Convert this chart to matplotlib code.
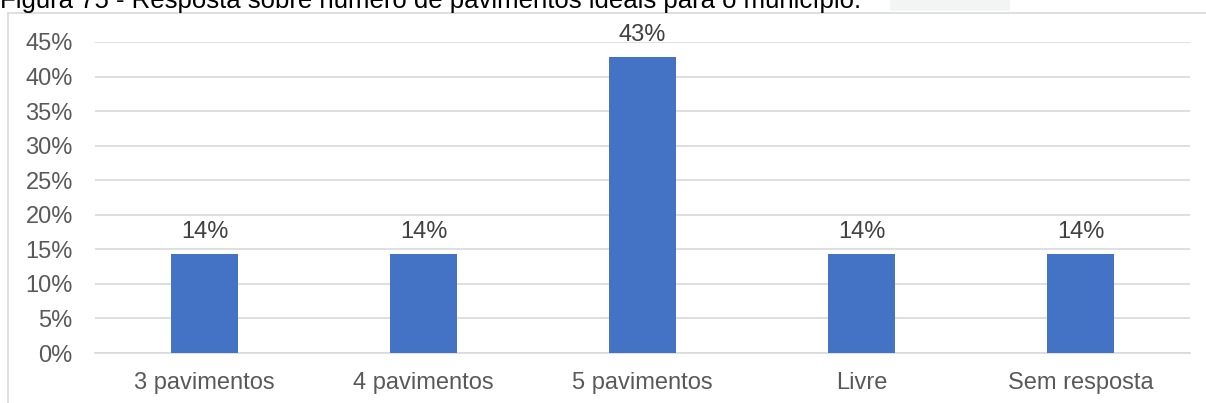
import matplotlib.pyplot as plt
from matplotlib.patches import Rectangle
import numpy as np

plt.rcParams['font.family'] = ['Liberation Sans', 'DejaVu Sans']

categories = ['3 pavimentos', '4 pavimentos', '5 pavimentos', 'Livre', 'Sem resposta']
values = [14.29, 14.29, 42.86, 14.29, 14.29]
labels = ['14%', '14%', '43%', '14%', '14%']
yticks = [0, 5, 10, 15, 20, 25, 30, 35, 40, 45]
caption = 'Figura 75 - Resposta sobre número de pavimentos ideais para o município.'

W, H = 1206, 403
fig = plt.figure(figsize=(W / 100, H / 100), dpi=100)

# plot area in pixels: x 95..1190, y 42 (45%) .. 353 (0%)
ax = fig.add_axes([95 / W, 1 - 353 / H, (1190 - 95) / W, (353 - 42) / H])

x = np.arange(len(categories))
ax.bar(x, values, width=0.31, color='#4472c4', zorder=3)
for xi, v, lab in zip(x, values, labels):
    ax.text(xi, v + 2.3, lab, ha='center', va='baseline', fontsize=17, color='#404040')

ax.set_xlim(-0.5, len(categories) - 0.5)
ax.set_ylim(0, 45)
ax.set_yticks(yticks)
ax.set_yticklabels([f'{t}%' for t in yticks])
ax.set_xticks(x)
ax.set_xticklabels(categories)
ax.tick_params(axis='both', length=0, labelsize=17, labelcolor='#595959')
ax.tick_params(axis='y', pad=16)
ax.tick_params(axis='x', pad=14)
ax.grid(axis='y', color='#d9d9d9', linewidth=1.2, zorder=0)
for s in ['top', 'right', 'left']:
    ax.spines[s].set_visible(False)
ax.spines['bottom'].set_color('#d9d9d9')
ax.spines['bottom'].set_linewidth(1.2)

# chart frame (top and left edges visible)
fig.add_artist(plt.Line2D([8 / W, 1], [1 - 12.5 / H, 1 - 12.5 / H], color='#d9d9d9', linewidth=1.2))
fig.add_artist(plt.Line2D([8 / W, 8 / W], [0, 1 - 12.5 / H], color='#d9d9d9', linewidth=1.2))

# faint box at top right
fig.add_artist(Rectangle((890 / W, 1 - 11 / H), 120 / W, 11 / H, facecolor='#f3f5f4',
                         edgecolor='none', transform=fig.transFigure))

# caption, cut off at the top edge as in the source
fig.text(0 / W, 1 - 8 / H, caption, ha='left', va='baseline', fontsize=18.5, color='black')

fig.savefig('out.png', dpi=100)
